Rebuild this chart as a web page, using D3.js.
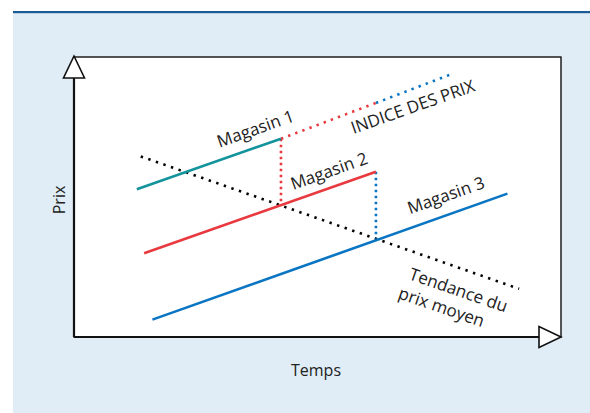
<!DOCTYPE html>
<html><head><meta charset="utf-8">
<script src="https://cdn.jsdelivr.net/npm/d3@7"></script>
<style>
html,body{margin:0;padding:0;background:#fff;}
svg{display:block;}
text{font-family:"Open Sans","Noto Sans",sans-serif;font-weight:400;fill:#222;}
</style></head>
<body>
<script>
// Conceptual chart: time (x) vs price (y), arbitrary units 0..10
const stores = ["Magasin 1", "Magasin 2", "Magasin 3"];
const storeColors = ["#13939c", "#e8393f", "#0a75c2"];
const storeStart = [[1.29, 5.28], [1.44, 2.99], [1.61, 0.62]];
const storeEnd = [[4.25, 7.08], [6.20, 5.90], [8.90, 5.12]];
const trendLine = [[1.37, 6.45], [9.14, 1.72]];
const indexSegments = [[[4.25, 7.08], [6.20, 8.36]], [[6.20, 8.36], [7.74, 9.38]]];
const indexColors = ["#e8393f", "#0a75c2"];
const linkSegments = [[[4.25, 7.08], [4.25, 4.71]], [[6.20, 5.90], [6.20, 3.52]]];
const linkColors = ["#e8393f", "#0a75c2"];
const axisTitles = ["Temps", "Prix"];
const labels = [
  {text: "Magasin 1", x: 2.99, y: 6.76, angle: -19.5},
  {text: "Magasin 2", x: 4.5, y: 5.25, angle: -19.5},
  {text: "Magasin 3", x: 6.9, y: 4.38, angle: -19.5},
  {text: "INDICE DES PRIX", x: 5.74, y: 7.25, angle: -19.5},
  {text: "Tendance du", x: 6.86, y: 2.07, angle: 19},
  {text: "prix moyen", x: 6.64, y: 1.39, angle: 19}
];

const W = 590, H = 413;
const svg = d3.select("body").append("svg").attr("width", W).attr("height", H);

// frame
svg.append("rect").attr("x", 13).attr("y", 13).attr("width", W - 13).attr("height", H - 13).attr("fill", "#e0edf6");
svg.append("rect").attr("x", 13).attr("y", 11).attr("width", W - 13).attr("height", 2.2).attr("fill", "#1d5b98");

const x = d3.scaleLinear().domain([0, 10]).range([74, 561]);
const y = d3.scaleLinear().domain([0, 10]).range([337, 57]);

// plot box
svg.append("rect").attr("x", x(0)).attr("y", y(10)).attr("width", x(10) - x(0)).attr("height", y(0) - y(10))
  .attr("fill", "#fff").attr("stroke", "#111").attr("stroke-width", 1.4);
// axes
svg.append("line").attr("x1", x(0)).attr("y1", y(0)).attr("x2", x(10)).attr("y2", y(0)).attr("stroke", "#111").attr("stroke-width", 2.2);
svg.append("line").attr("x1", x(0)).attr("y1", y(0)).attr("x2", x(0)).attr("y2", y(10)).attr("stroke", "#111").attr("stroke-width", 2.2);
// arrowheads
const ax = x(0), ay = y(10);
svg.append("path").attr("d", `M${ax},${ay - 1} L${ax + 10.5},${ay + 21} L${ax - 10.5},${ay + 21} Z`)
  .attr("fill", "#fff").attr("stroke", "#111").attr("stroke-width", 1.6).attr("stroke-linejoin", "miter");
const bx = x(10), by = y(0);
svg.append("path").attr("d", `M${bx},${by} L${bx - 22},${by - 10.5} L${bx - 22},${by + 10.5} Z`)
  .attr("fill", "#fff").attr("stroke", "#111").attr("stroke-width", 1.6);

const line = d3.line().x(d => x(d[0])).y(d => y(d[1]));

// trend dotted line
svg.append("path").attr("d", line(trendLine)).attr("fill", "none").attr("stroke", "#000")
  .attr("stroke-width", 2.6).attr("stroke-dasharray", "2.4 5.6");

// link verticals
linkSegments.forEach((s, i) => {
  svg.append("path").attr("d", line(s)).attr("fill", "none").attr("stroke", linkColors[i])
    .attr("stroke-width", 2.6).attr("stroke-dasharray", "2.4 3.6");
});
// index segments
indexSegments.forEach((s, i) => {
  svg.append("path").attr("d", line(s)).attr("fill", "none").attr("stroke", indexColors[i])
    .attr("stroke-width", 2.6).attr("stroke-dasharray", "2.4 5.2");
});
// store lines
stores.forEach((s, i) => {
  svg.append("path").attr("d", line([storeStart[i], storeEnd[i]])).attr("fill", "none")
    .attr("stroke", storeColors[i]).attr("stroke-width", 2.6);
});

// labels
labels.forEach(l => {
  svg.append("text").attr("transform", `translate(${x(l.x)},${y(l.y)}) rotate(${l.angle})`)
    .attr("font-size", 17).text(l.text);
});

// axis titles
svg.append("text").attr("x", 316).attr("y", 376).attr("text-anchor", "middle").attr("font-size", 16).text(axisTitles[0]);
svg.append("text").attr("transform", "translate(65,200) rotate(-90)").attr("text-anchor", "middle").attr("font-size", 16).text(axisTitles[1]);
</script>
</body></html>
